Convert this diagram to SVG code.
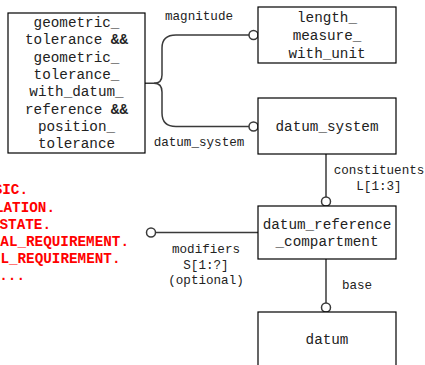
<svg xmlns="http://www.w3.org/2000/svg" width="425" height="365" viewBox="0 0 425 365">
<style>
.box{fill:#fff;stroke:#000;stroke-width:1.2}
.t{font-family:"Liberation Mono","Courier New",monospace;font-size:14.3px;fill:#222;text-anchor:middle}
.l{font-family:"Liberation Mono","Courier New",monospace;font-size:12.6px;fill:#222;text-anchor:middle}
.r{font-family:"Liberation Mono","Courier New",monospace;font-size:14.3px;font-weight:bold;fill:#f00;text-anchor:end}
.c{fill:none;stroke:#3a3a3a;stroke-width:1.5}
.o{fill:#fff;stroke:#3a3a3a;stroke-width:1.5}
.b{font-weight:bold}
</style>
<rect width="425" height="365" fill="#fff"/>
<g id="red_text">
<text class="r" x="28" y="194">SIC.</text>
<text class="r" x="55" y="211.5">LATION.</text>
<text class="r" x="51" y="228.8">STATE.</text>
<text class="r" x="129" y="246">AL_REQUIREMENT.</text>
<text class="r" x="120.5" y="263">L_REQUIREMENT.</text>
<text class="r" x="25" y="280">...</text>
</g>
<g id="connectors">
<path class="c" d="M145,83.3 L154,83.3 Q162,83.3 162,75 L162,48 Q162,35 176,35 L249,35"/>
<path class="c" d="M154,83.3 Q162,83.3 162,92 L162,113 Q162,126.5 176,126.5 L249,126.5"/>
<circle class="o" cx="253.5" cy="35" r="4.5"/>
<circle class="o" cx="253.5" cy="126.5" r="4.5"/>
<path class="c" d="M326,154 L326,197"/>
<circle class="o" cx="326" cy="201.5" r="4.5"/>
<path class="c" d="M155.5,232.5 L258,232.5"/>
<circle class="o" cx="151" cy="232.5" r="4.5"/>
<path class="c" d="M326,259 L326,303"/>
<circle class="o" cx="326" cy="307.5" r="4.5"/>
<text class="l" x="199" y="20">magnitude</text>
<text class="l" x="199" y="146">datum_system</text>
<text class="l" x="379" y="174">constituents</text>
<text class="l" x="379" y="190">L[1:3]</text>
<text class="l" x="206" y="253">modifiers</text>
<text class="l" x="206" y="269">S[1:?]</text>
<text class="l" x="206" y="284">(optional)</text>
<text class="l" x="357" y="289">base</text>
</g>
<g id="geometric_tolerance">
<rect class="box" x="8" y="13" width="137" height="140"/>
<text class="t" x="76.5" y="27">geometric_</text>
<text class="t" x="76.5" y="44.3">tolerance <tspan class="b">&amp;&amp;</tspan></text>
<text class="t" x="76.5" y="61.6">geometric_</text>
<text class="t" x="76.5" y="78.9">tolerance_</text>
<text class="t" x="76.5" y="96.2">with_datum_</text>
<text class="t" x="76.5" y="113.5">reference <tspan class="b">&amp;&amp;</tspan></text>
<text class="t" x="76.5" y="130.8">position_</text>
<text class="t" x="76.5" y="148.1">tolerance</text>
</g>
<g id="length_measure_with_unit">
<rect class="box" x="258" y="7" width="138" height="56"/>
<text class="t" x="327" y="22">length_</text>
<text class="t" x="327" y="40">measure_</text>
<text class="t" x="327" y="57.5">with_unit</text>
</g>
<g id="datum_system">
<rect class="box" x="258" y="98" width="138" height="56"/>
<text class="t" x="327" y="131">datum_system</text>
</g>
<g id="datum_reference_compartment">
<rect class="box" x="258" y="206" width="138" height="53"/>
<text class="t" x="327" y="229">datum_reference</text>
<text class="t" x="327" y="246">_compartment</text>
</g>
<g id="datum">
<rect class="box" x="258" y="312" width="138" height="60"/>
<text class="t" x="327" y="344">datum</text>
</g>
</svg>
